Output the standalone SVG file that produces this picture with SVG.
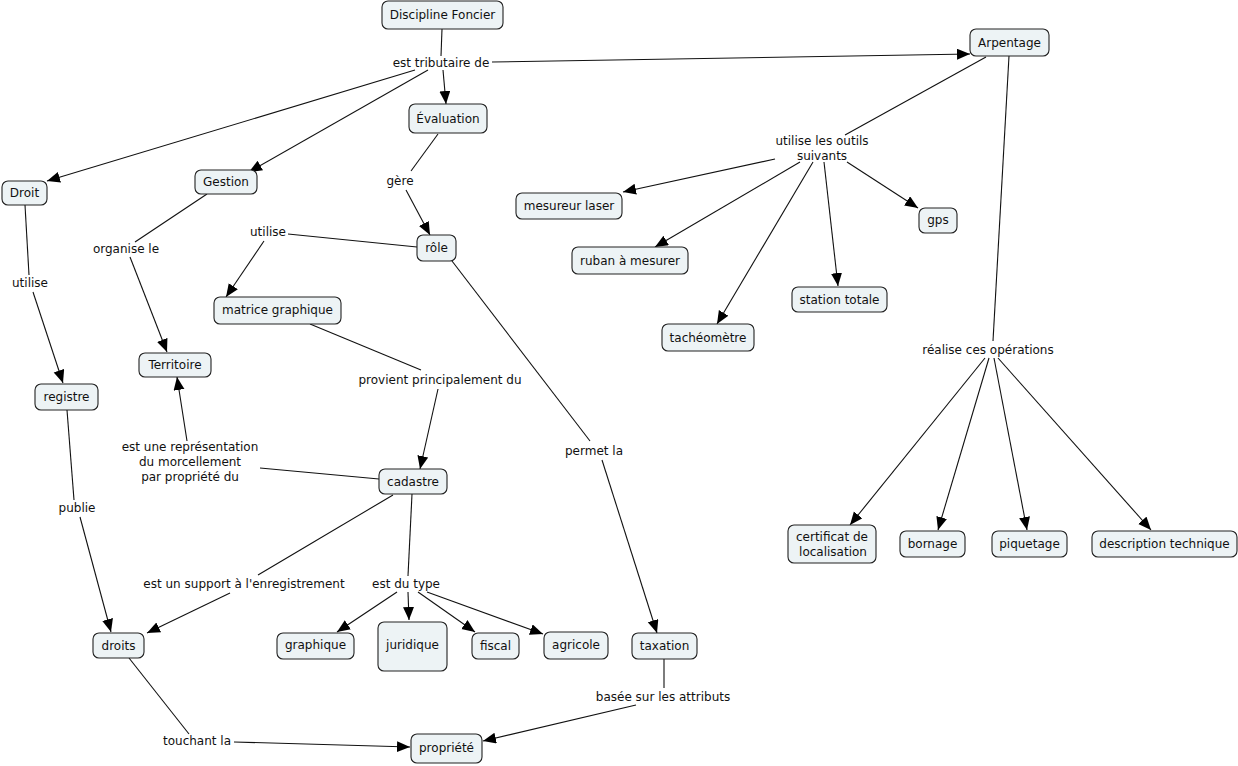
<svg xmlns="http://www.w3.org/2000/svg" width="1238" height="766" viewBox="0 0 1238 766">
<defs>
<marker id="arr" markerUnits="userSpaceOnUse" markerWidth="14" markerHeight="12" refX="13" refY="5.5" orient="auto">
<path d="M0,0 L13,5.5 L0,11 z" fill="#000"/>
</marker>
</defs>
<style>
.n rect{fill:#edf3f5;stroke:#222;stroke-width:1.1}
text{font-family:"DejaVu Sans",Verdana,sans-serif;font-size:12px;fill:#111;text-anchor:middle}
.c line{stroke:#111;stroke-width:1.1}
.c .a{marker-end:url(#arr)}
</style>
<rect width="1238" height="766" fill="#fff"/>
<g class="c" id="connectors">
<line x1="442" y1="29" x2="441" y2="56"/>
<line class="a" x1="443" y1="70" x2="446" y2="104"/>
<line class="a" x1="428" y1="70" x2="249" y2="172"/>
<line class="a" x1="415" y1="70" x2="47" y2="181"/>
<line class="a" x1="492" y1="62" x2="970" y2="54"/>
<line x1="986" y1="57" x2="845" y2="135"/>
<line class="a" x1="775" y1="159" x2="623" y2="192"/>
<line class="a" x1="800" y1="162" x2="655" y2="247"/>
<line class="a" x1="813" y1="162" x2="717" y2="324"/>
<line class="a" x1="824" y1="162" x2="838" y2="286"/>
<line class="a" x1="847" y1="162" x2="918" y2="208"/>
<line x1="1009" y1="56" x2="993" y2="341"/>
<line class="a" x1="985" y1="358" x2="850" y2="525"/>
<line class="a" x1="989" y1="358" x2="938" y2="530"/>
<line class="a" x1="994" y1="358" x2="1027" y2="530"/>
<line class="a" x1="998" y1="358" x2="1151" y2="530"/>
<line x1="438" y1="134" x2="411" y2="171"/>
<line class="a" x1="406" y1="190" x2="430" y2="235"/>
<line x1="417" y1="247" x2="288" y2="234"/>
<line class="a" x1="264" y1="241" x2="226" y2="297"/>
<line x1="310" y1="324" x2="421" y2="370"/>
<line class="a" x1="438" y1="389" x2="420" y2="469"/>
<line x1="379" y1="479" x2="260" y2="468"/>
<line class="a" x1="187" y1="441" x2="177" y2="377"/>
<line x1="452" y1="261" x2="590" y2="441"/>
<line class="a" x1="602" y1="460" x2="657" y2="633"/>
<line x1="393" y1="495" x2="258" y2="575"/>
<line class="a" x1="230" y1="593" x2="147" y2="633"/>
<line x1="412" y1="494" x2="408" y2="576"/>
<line class="a" x1="397" y1="592" x2="337" y2="632"/>
<line class="a" x1="408" y1="592" x2="409" y2="620"/>
<line class="a" x1="418" y1="592" x2="475" y2="632"/>
<line class="a" x1="427" y1="592" x2="543" y2="634"/>
<line x1="207" y1="194" x2="135" y2="242"/>
<line class="a" x1="130" y1="257" x2="167" y2="352"/>
<line x1="25" y1="205" x2="29" y2="275"/>
<line class="a" x1="33" y1="292" x2="63" y2="383"/>
<line x1="67" y1="410" x2="74" y2="500"/>
<line class="a" x1="80" y1="517" x2="111" y2="632"/>
<line x1="129" y1="658" x2="189" y2="734"/>
<line class="a" x1="234" y1="742" x2="410" y2="747"/>
<line x1="664" y1="659" x2="664" y2="688"/>
<line class="a" x1="636" y1="705" x2="483" y2="741"/>
</g>
<g id="labels">
<text x="441" y="67">est tributaire de</text>
<text x="822" y="145">utilise les outils</text>
<text x="822" y="160">suivants</text>
<text x="400" y="185">gère</text>
<text x="126" y="253">organise le</text>
<text x="30" y="287">utilise</text>
<text x="268" y="236">utilise</text>
<text x="440" y="384">provient principalement du</text>
<text x="190" y="451">est une représentation</text>
<text x="190" y="466">du morcellement</text>
<text x="190" y="481">par propriété du</text>
<text x="77" y="512">publie</text>
<text x="594" y="455">permet la</text>
<text x="244" y="588">est un support à l'enregistrement</text>
<text x="406" y="588">est du type</text>
<text x="663" y="701">basée sur les attributs</text>
<text x="197" y="745">touchant la</text>
<text x="988" y="354">réalise ces opérations</text>
</g>
<g class="n" id="n-discipline"><rect x="382" y="1" width="121" height="28" rx="6"/><text x="442.5" y="19">Discipline Foncier</text></g>
<g class="n" id="n-evaluation"><rect x="409" y="104" width="78" height="29" rx="6"/><text x="448" y="123">Évaluation</text></g>
<g class="n" id="n-arpentage"><rect x="970" y="29" width="79" height="27" rx="6"/><text x="1009.5" y="47">Arpentage</text></g>
<g class="n" id="n-droit"><rect x="2" y="181" width="45" height="24" rx="6"/><text x="24.5" y="197">Droit</text></g>
<g class="n" id="n-gestion"><rect x="195" y="170" width="62" height="24" rx="6"/><text x="226" y="186">Gestion</text></g>
<g class="n" id="n-territoire"><rect x="139" y="353" width="72" height="24" rx="6"/><text x="175" y="369">Territoire</text></g>
<g class="n" id="n-registre"><rect x="35" y="384" width="63" height="26" rx="6"/><text x="66.5" y="401">registre</text></g>
<g class="n" id="n-matrice"><rect x="214" y="297" width="127" height="27" rx="6"/><text x="277.5" y="314">matrice graphique</text></g>
<g class="n" id="n-role"><rect x="417" y="235" width="39" height="26" rx="6"/><text x="436.5" y="252">rôle</text></g>
<g class="n" id="n-cadastre"><rect x="379" y="469" width="68" height="25" rx="6"/><text x="413" y="486">cadastre</text></g>
<g class="n" id="n-droits"><rect x="93" y="633" width="51" height="25" rx="6"/><text x="118.5" y="650">droits</text></g>
<g class="n" id="n-graphique"><rect x="277" y="633" width="77" height="26" rx="6"/><text x="315.5" y="649">graphique</text></g>
<g class="n" id="n-juridique"><rect x="378" y="622" width="69" height="49" rx="6"/><text x="412.5" y="649">juridique</text></g>
<g class="n" id="n-fiscal"><rect x="472" y="633" width="47" height="26" rx="6"/><text x="495.5" y="650">fiscal</text></g>
<g class="n" id="n-agricole"><rect x="544" y="632" width="64" height="27" rx="6"/><text x="576" y="649">agricole</text></g>
<g class="n" id="n-taxation"><rect x="632" y="633" width="65" height="26" rx="6"/><text x="664.5" y="650">taxation</text></g>
<g class="n" id="n-propriete"><rect x="411" y="734" width="71" height="29" rx="6"/><text x="446.5" y="752">propriété</text></g>
<g class="n" id="n-mesureur"><rect x="516" y="193" width="106" height="26" rx="6"/><text x="569" y="210">mesureur laser</text></g>
<g class="n" id="n-ruban"><rect x="572" y="247" width="116" height="27" rx="6"/><text x="630" y="265">ruban à mesurer</text></g>
<g class="n" id="n-tacheometre"><rect x="662" y="324" width="92" height="27" rx="6"/><text x="708" y="342">tachéomètre</text></g>
<g class="n" id="n-station"><rect x="792" y="287" width="95" height="25" rx="6"/><text x="839.5" y="304">station totale</text></g>
<g class="n" id="n-gps"><rect x="919" y="208" width="38" height="25" rx="6"/><text x="938" y="224">gps</text></g>
<g class="n" id="n-certificat"><rect x="788" y="525" width="88" height="38" rx="6"/><text x="832" y="541">certificat de</text><text x="833" y="556">localisation</text></g>
<g class="n" id="n-bornage"><rect x="900" y="531" width="65" height="26" rx="6"/><text x="932.5" y="548">bornage</text></g>
<g class="n" id="n-piquetage"><rect x="992" y="531" width="75" height="26" rx="6"/><text x="1029.5" y="548">piquetage</text></g>
<g class="n" id="n-description"><rect x="1092" y="531" width="145" height="26" rx="6"/><text x="1164.5" y="548">description technique</text></g>
</svg>
